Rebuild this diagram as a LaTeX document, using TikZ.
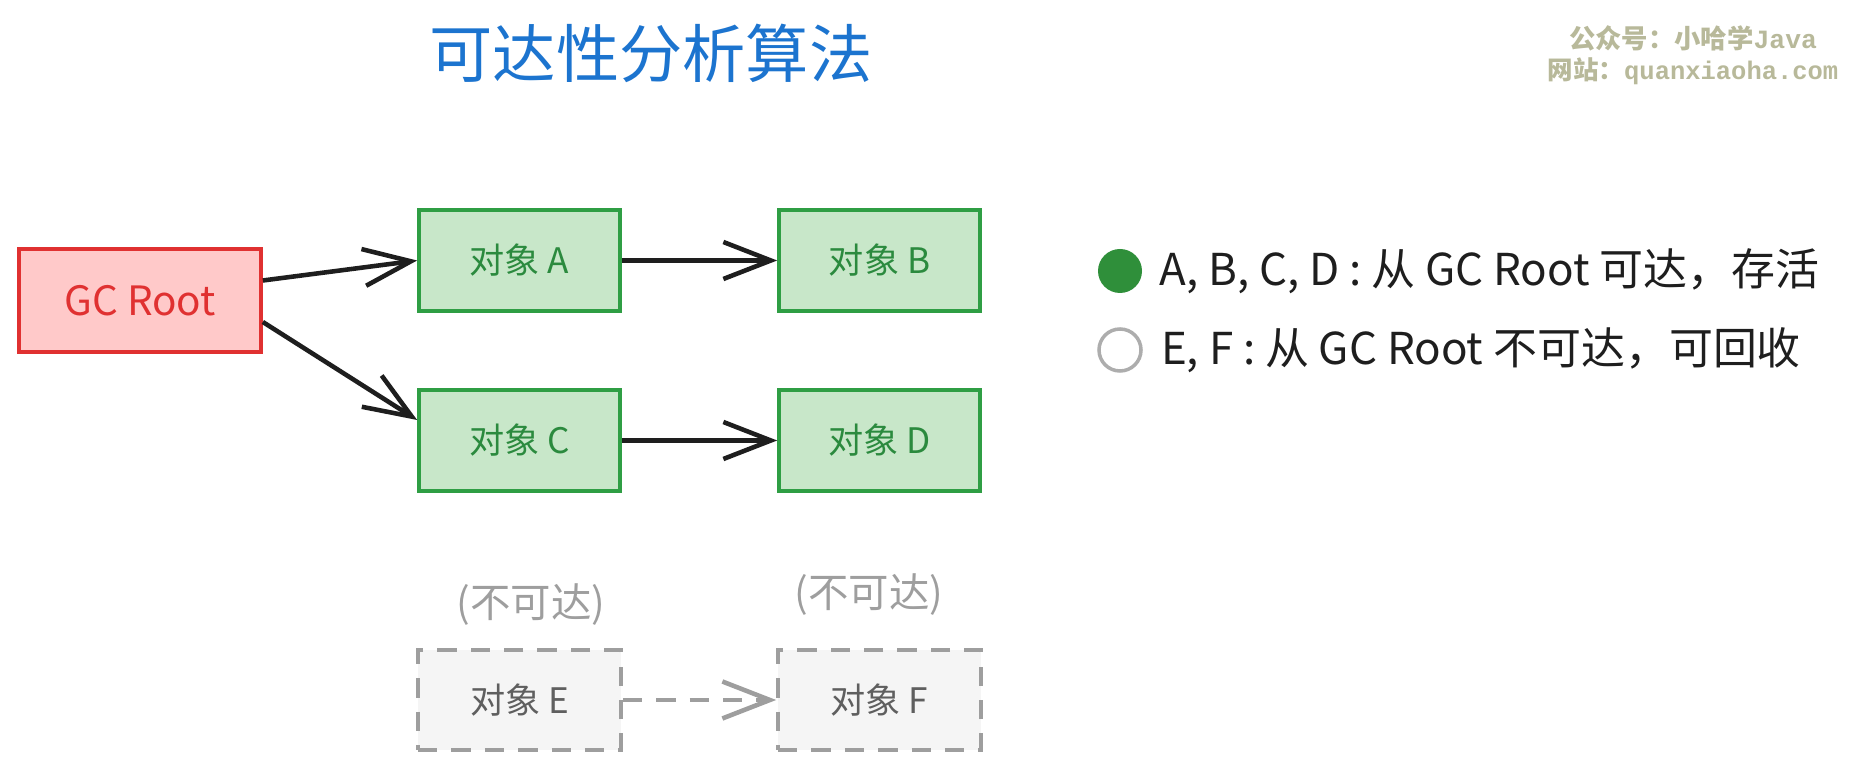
\documentclass[tikz,border=0pt]{standalone}
\usepackage{fontspec}
\setmainfont{Noto Sans CJK SC}
\newfontfamily\wmmono{Liberation Mono}
\usetikzlibrary{arrows.meta,positioning}

\definecolor{rootline}{HTML}{E03131}
\definecolor{rootfill}{HTML}{FFC9C9}
\definecolor{objline}{HTML}{2F9E44}
\definecolor{objfill}{HTML}{C8E7C9}
\definecolor{objtext}{HTML}{2B8A3E}
\definecolor{deadline}{HTML}{9E9E9E}
\definecolor{deadfill}{HTML}{F5F5F5}
\definecolor{deadtext}{HTML}{5F5F5F}
\definecolor{reflink}{HTML}{1E1E1E}
\definecolor{titleblue}{HTML}{1C74CF}
\definecolor{wmark}{HTML}{B8B99A}
\definecolor{livegreen}{HTML}{2F8F3A}

\tikzset{
  rootbox/.style={draw=rootline, fill=rootfill, line width=2.1pt, text=rootline,
    minimum width=4.84cm, minimum height=2.06cm, font=\fontsize{23pt}{27pt}\selectfont},
  objbox/.style={draw=objline, fill=objfill, line width=2.1pt, text=objtext,
    minimum width=4.02cm, minimum height=2.02cm, font=\fontsize{20pt}{24pt}\selectfont},
  deadbox/.style={draw=deadline, fill=deadfill, line width=2.1pt, text=deadtext,
    dash pattern=on 11pt off 8pt, minimum width=4.06cm, minimum height=2cm,
    font=\fontsize{20pt}{24pt}\selectfont},
  refarrow/.style={draw=reflink, line width=2.6pt, -{Straight Barb[length=0.95cm,width=0.74cm]}},
  deadarrow/.style={refarrow, draw=deadline, dash pattern=on 11pt off 8pt},
  deadlabel/.style={text=deadline, font=\fontsize{23pt}{27pt}\selectfont},
  legendtext/.style={inner sep=0pt, text=reflink, font=\fontsize{25pt}{29pt}\selectfont},
}

\begin{document}
\begin{tikzpicture}
\useasboundingbox (0,0) rectangle (37.12,15.42);

% Title and watermark
\node[text=titleblue, font=\fontsize{36pt}{42pt}\selectfont] (title) at (13.02,14.36) {可达性分析算法};
\node[text=wmark, font=\fontsize{15pt}{17pt}\selectfont\bfseries] (wm1) at (33.86,14.66) {公众号：小哈学{\wmmono\bfseries Java}};
\node[text=wmark, font=\fontsize{14.5pt}{16pt}\selectfont\bfseries] (wm2) at (33.86,14.0) {网站：{\wmmono\bfseries quanxiaoha.com}};

% Objects
\node[rootbox] (root) at (2.8,9.41) {GC Root};
\node[objbox] (a) at (10.39,10.21) {对象 A};
\node[objbox] (b) at (17.59,10.21) {对象 B};
\node[objbox] (c) at (10.39,6.61) {对象 C};
\node[objbox] (d) at (17.59,6.61) {对象 D};
\node[deadbox] (e) at (10.39,1.42) {对象 E};
\node[deadbox] (f) at (17.59,1.42) {对象 F};
\node[deadlabel] (elabel) at (10.62,3.32) {(不可达)};
\node[deadlabel] (flabel) at (17.38,3.52) {(不可达)};

% References
\draw[refarrow] ([yshift=0.4cm]root.east) -- (a.west);
\draw[refarrow] ([yshift=-0.43cm]root.east) -- ([yshift=0.41cm]c.west);
\draw[refarrow] (a) -- (b);
\draw[refarrow] (c) -- (d);
\draw[deadarrow] (e) -- (f);

% Legend
\node[circle, fill=livegreen, minimum size=0.88cm, inner sep=0pt] (live) at (22.4,10.0) {};
\node[circle, draw=deadline!85, line width=2pt, minimum size=0.84cm, inner sep=0pt] (dead) at (22.4,8.42) {};
\node[legendtext, anchor=west] (livetext) at ([xshift=0.34cm]live.east) {A, B, C, D : 从 GC Root 可达，存活};
\node[legendtext, anchor=west] (deadtext) at ([xshift=0.36cm]dead.east) {E, F : 从 GC Root 不可达，可回收};

\end{tikzpicture}
\end{document}
